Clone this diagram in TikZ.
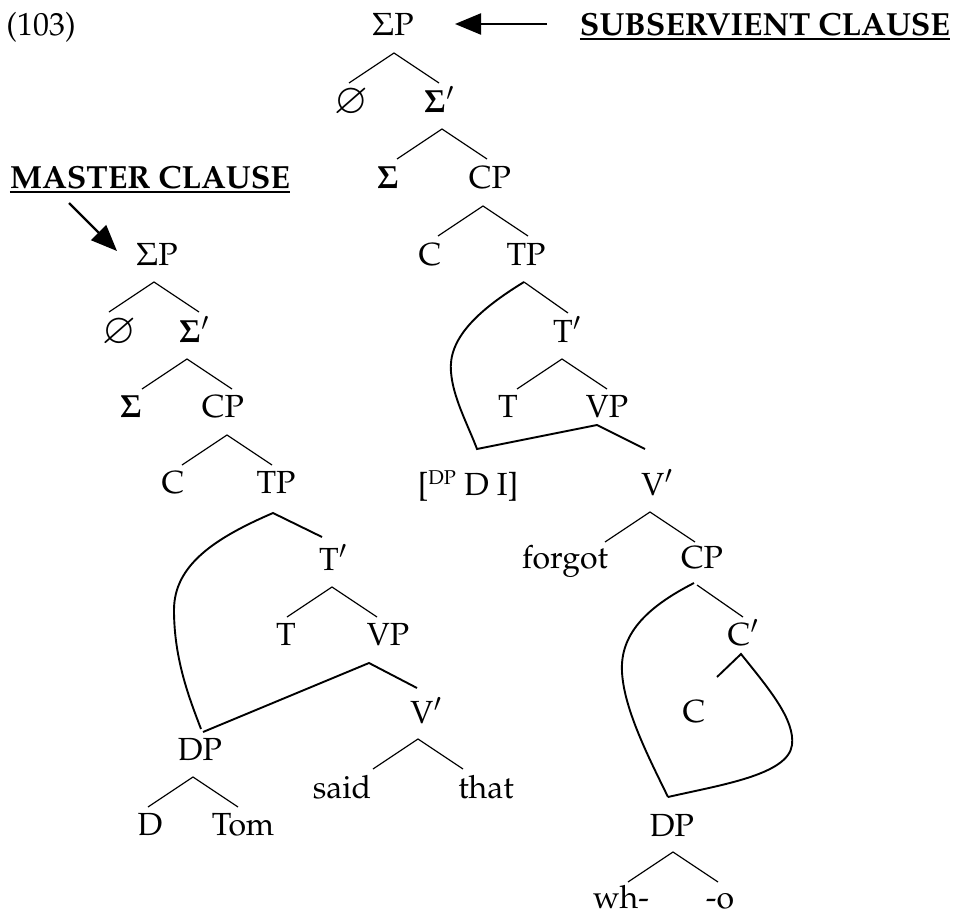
\documentclass[tikz,border=0pt]{standalone}
\usepackage[T1]{fontenc}
\usepackage{mathpazo}
\usepackage{amssymb}
\usepackage{graphicx}
\usetikzlibrary{calc,arrows.meta}
\newcommand\nullsym{\raisebox{-1pt}{\scalebox{1.3}{$\varnothing$}}}
\begin{document}
\begin{tikzpicture}[x=1pt,y=-1pt,
  lab/.style={anchor=base,inner sep=0pt,font=\fontsize{32}{38}\selectfont},
  boldlab/.style={lab,font=\fontsize{32}{38}\selectfont\bfseries},
  br/.style={line width=1.2pt},
  mv/.style={line width=1.9pt,line join=miter},
  ul/.style={line width=2.6pt},
  pointer/.style={line width=2.2pt,-{Triangle[length=26pt,width=21pt]}}]
\useasboundingbox (0,0) rectangle (964,916);
\newcommand\tri[1]{\draw[br] ($(#1)+(-45,30)$) -- (#1) -- ($(#1)+(45,30)$);}

% ---------- headings ----------
\node[lab] (ex) at (41,35) {(103)};
\node[boldlab] (sub) at (765,35) {SUBSERVIENT CLAUSE};
\node[boldlab] (mc) at (150,188) {MASTER CLAUSE};
\draw[ul] ($(sub.base west)+(0,4)$) -- ($(sub.base east)+(0,4)$);
\draw[ul] ($(mc.base west)+(0,4)$) -- ($(mc.base east)+(0,4)$);

% ---------- subservient (right) tree ----------
\node[lab] (rSP) at (393,35) {$\Sigma$P};
\node[lab] (rNull) at (351,112) {\nullsym};
\node[lab] (rSb) at (439,112) {$\mathbf{\Sigma}'$};
\node[lab] (rSig) at (388,188) {$\mathbf{\Sigma}$};
\node[lab] (rCP) at (490,188) {CP};
\node[lab] (rC) at (430,265) {C};
\node[lab] (rTP) at (526,265) {TP};
\node[lab] (rTb) at (567,342) {T$'$};
\node[lab] (rT) at (508,417) {T};
\node[lab] (rVP) at (607,417) {VP};
\node[lab] (rDI) at (468,495) {[{\fontsize{20}{24}\selectfont\raisebox{11pt}{DP}} D I]};
\node[lab] (rVb) at (657,495) {V$'$};
\node[lab] (rforgot) at (565,568) {forgot};
\node[lab] (rCPb) at (702,568) {CP};
\node[lab] (rCbar) at (743,645) {C$'$};
\node[lab] (rCc) at (694,722) {C};
\node[lab] (rDP) at (672,836) {DP};
\node[lab] (rwh) at (621,908) {wh-};
\node[lab] (ro) at (720,908) {-o};

\coordinate (rSPa) at (394,53);
\coordinate (rSba) at (442,129);
\coordinate (rCPa) at (483,206);
\coordinate (rTba) at (562,359);
\coordinate (rVba) at (650,512);
\coordinate (rDPa) at (673,852);
\tri{rSPa}\tri{rSba}\tri{rCPa}\tri{rTba}\tri{rVba}\tri{rDPa}

\coordinate (rTPa) at (524,282);
\coordinate (rDIt) at (477,449);
\coordinate (rVPa) at (597,425);
\coordinate (rVbt) at (645,449);
\draw[br] (rTPa) -- ++(44,31);
\draw[mv] (rTPa) .. controls (475,312) and (448,340) .. (451,372)
  .. controls (453,398) and (468,425) .. (rDIt) -- (rVPa) -- (rVbt);

\coordinate (rCPba) at (694,583);
\coordinate (rCbara) at (741,654);
\coordinate (rDPt) at (668,797);
\draw[br] (697,585) -- (743,617);
\draw[mv] (rCPba) .. controls (645,608) and (620,635) .. (622,672)
  .. controls (624,710) and (650,760) .. (rDPt);
\draw[mv] (717,677) -- (rCbara) .. controls (770,690) and (795,720) .. (792,745)
  .. controls (788,775) and (720,785) .. (rDPt);

% ---------- master (left) tree ----------
\node[lab] (lSP) at (157,265) {$\Sigma$P};
\node[lab] (lNull) at (119,342) {\nullsym};
\node[lab] (lSb) at (194,342) {$\mathbf{\Sigma}'$};
\node[lab] (lSig) at (131,417) {$\mathbf{\Sigma}$};
\node[lab] (lCP) at (223,417) {CP};
\node[lab] (lC) at (173,493) {C};
\node[lab] (lTP) at (276,493) {TP};
\node[lab] (lTb) at (333,570) {T$'$};
\node[lab] (lT) at (286,645) {T};
\node[lab] (lVP) at (388,645) {VP};
\node[lab] (lVb) at (426,723) {V$'$};
\node[lab] (lDP) at (200,760) {DP};
\node[lab] (lD) at (150,835) {D};
\node[lab] (lTom) at (243,835) {Tom};
\node[lab] (lsaid) at (342,798) {said};
\node[lab] (lthat) at (486,798) {that};

\coordinate (lSPa) at (154,282);
\coordinate (lSba) at (187,359);
\coordinate (lCPa) at (227,435);
\coordinate (lTba) at (332,587);
\coordinate (lVba) at (418,739);
\coordinate (lDPa) at (193,777);
\tri{lSPa}\tri{lSba}\tri{lCPa}\tri{lTba}\tri{lVba}\tri{lDPa}

\coordinate (lTPa) at (273,513);
\coordinate (lTbt) at (322,537);
\coordinate (lDPt) at (201,729);
\coordinate (lVPa) at (369,663);
\coordinate (lVbt) at (417,688);
\draw[mv] (lTbt) -- (lTPa) .. controls (215,538) and (174,565) .. (174,610)
  .. controls (174,660) and (190,700) .. (lDPt);
\draw[mv] (203,732) -- (lVPa) -- (lVbt);

% ---------- pointers ----------
\coordinate (subtail) at (547,24);
\coordinate (subtip) at (455,24);
\draw[pointer] (subtail) -- (subtip);
\coordinate (mctail) at (69,203);
\coordinate (mctip) at (117,251);
\draw[pointer] (mctail) -- (mctip);
\end{tikzpicture}
\end{document}
